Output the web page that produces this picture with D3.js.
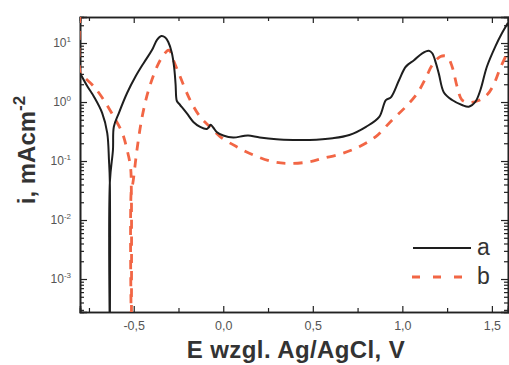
<!DOCTYPE html>
<html>
<head>
<meta charset="utf-8">
<script src="https://cdn.jsdelivr.net/npm/d3@7"></script>
<style>
  html, body { margin: 0; padding: 0; background: #fff; }
  svg { display: block; font-family: "Liberation Sans", Arial, sans-serif; }
</style>
</head>
<body>
<svg id="chart" width="509" height="365"></svg>
<script>
// Polarisation curves: potential E (V vs Ag/AgCl) and current density i (mA/cm2)
const seriesNames = ["a", "b"];

const potentialA = [
  -0.800, -0.760, -0.722, -0.676, -0.648, -0.638, -0.6335, -0.6333, -0.6330, -0.616,
  -0.611, -0.583, -0.537, -0.490, -0.444, -0.398, -0.370, -0.346, -0.324, -0.307,
  -0.287, -0.274, -0.266, -0.263, -0.259, -0.241, -0.203, -0.167, -0.129, -0.092,
  -0.082, -0.071, -0.056, -0.037, 0.000, 0.056, 0.111, 0.139, 0.204, 0.297,
  0.389, 0.482, 0.611, 0.704, 0.797, 0.871, 0.908, 0.936, 0.982, 1.019,
  1.065, 1.111, 1.148, 1.167, 1.187, 1.204, 1.232, 1.278, 1.333, 1.371,
  1.408, 1.436, 1.472, 1.519, 1.556, 1.590
];
const currentA = [
  3.1, 1.87, 1.23, 0.65, 0.30, 0.10, 0.045, 0.0001, 0.045, 0.154,
  0.38, 0.65, 1.42, 2.7, 4.6, 7.6, 11.3, 13.1, 12.4, 10.4,
  6.8, 3.8, 1.94, 1.22, 1.04, 0.89, 0.64, 0.46, 0.38, 0.35,
  0.37, 0.41, 0.37, 0.31, 0.27, 0.25, 0.265, 0.27, 0.25, 0.233,
  0.227, 0.227, 0.243, 0.276, 0.38, 0.56, 1.08, 1.2, 2.36, 3.96,
  5.1, 6.7, 7.4, 6.7, 4.6, 3.0, 1.45, 1.08, 0.89, 0.83,
  1.01, 1.6, 3.96, 8.7, 14.6, 22
];

const potentialB = [
  -0.800, -0.797, -0.781, -0.722, -0.667, -0.611, -0.564, -0.537, -0.518, -0.5135,
  -0.5130, -0.5125, -0.507, -0.482, -0.453, -0.417, -0.370, -0.333, -0.306, -0.297,
  -0.278, -0.241, -0.185, -0.129, -0.074, -0.018, 0.074, 0.167, 0.278, 0.371,
  0.482, 0.556, 0.667, 0.759, 0.852, 0.944, 1.019, 1.083, 1.130, 1.167,
  1.213, 1.250, 1.278, 1.306, 1.333, 1.371, 1.426, 1.472, 1.509, 1.547,
  1.590
];
const currentB = [
  31, 2.98, 2.69, 1.82, 1.08, 0.56, 0.30, 0.154, 0.08, 0.035,
  0.0001, 0.035, 0.039, 0.154, 0.56, 1.6, 3.97, 6.3, 7.6, 7.3,
  5.1, 2.7, 1.08, 0.56, 0.38, 0.26, 0.175, 0.127, 0.097, 0.091,
  0.097, 0.111, 0.135, 0.175, 0.26, 0.50, 0.83, 1.4, 2.52, 4.24,
  5.9, 5.9, 3.97, 1.82, 1.08, 0.98, 1.06, 1.31, 1.94, 3.77,
  7.2
];

const xTickValues = [-0.5, 0.0, 0.5, 1.0, 1.5];
const xTickLabels = ["-0,5", "0,0", "0,5", "1,0", "1,5"];
const xMinorTickValues = [-0.75, -0.25, 0.25, 0.75, 1.25];
const yDecadeExponents = [-3, -2, -1, 0, 1];

const xTitle = "E wzgl. Ag/AgCl, V";
const yTitleMain = "i, mAcm";
const yTitleSup = "-2";

const svg = d3.select("#chart");
const plot = { left: 80, right: 508, top: 17, bottom: 312 };

const x = d3.scaleLinear().domain([-0.8, 1.59]).range([plot.left, plot.right]);
const y = d3.scaleLog().domain([2.76e-4, 27.6]).range([plot.bottom, plot.top]);

// clip for the curves
svg.append("defs").append("clipPath").attr("id", "plotClip")
  .append("rect")
  .attr("x", plot.left).attr("y", plot.top)
  .attr("width", plot.right - plot.left).attr("height", plot.bottom - plot.top);

// minor log ticks (2..9 per decade) inside the y range
const yMinor = [];
for (let e = -4; e <= 1; e++) {
  for (let m = 2; m <= 9; m++) {
    const v = m * Math.pow(10, e);
    if (v > y.domain()[0] && v < y.domain()[1]) yMinor.push(v);
  }
}
const yMajor = yDecadeExponents.map(e => Math.pow(10, e));

const axisColor = "#222";
const tickLabelColor = "#555";

// bottom axis: ticks point inward
const gB = svg.append("g").attr("transform", `translate(0,${plot.bottom})`);
gB.call(d3.axisBottom(x).tickValues(xTickValues).tickSize(-6).tickPadding(9)
  .tickFormat((d, i) => xTickLabels[i]));
gB.append("g").call(d3.axisBottom(x).tickValues(xMinorTickValues).tickSize(-4).tickFormat(""));

// top axis
const gT = svg.append("g").attr("transform", `translate(0,${plot.top})`);
gT.call(d3.axisTop(x).tickValues(xTickValues).tickSize(-6).tickFormat(""));
gT.append("g").call(d3.axisTop(x).tickValues(xMinorTickValues).tickSize(-4).tickFormat(""));

// left axis
const gL = svg.append("g").attr("transform", `translate(${plot.left},0)`);
gL.call(d3.axisLeft(y).tickValues(yMajor).tickSize(-7).tickFormat(""));
gL.append("g").call(d3.axisLeft(y).tickValues(yMinor).tickSize(-4).tickFormat(""));

// right axis
const gR = svg.append("g").attr("transform", `translate(${plot.right},0)`);
gR.call(d3.axisRight(y).tickValues(yMajor).tickSize(-7).tickFormat(""));
gR.append("g").call(d3.axisRight(y).tickValues(yMinor).tickSize(-4).tickFormat(""));

svg.selectAll(".domain").attr("stroke", axisColor).attr("stroke-width", 1.6);
svg.selectAll(".tick line").attr("stroke", axisColor).attr("stroke-width", 1.2);
gB.selectAll(".tick text").attr("fill", tickLabelColor).attr("font-size", 12.5)
  .attr("font-family", "Liberation Sans, Arial, sans-serif");

// y decade labels 10^n
const yLab = svg.append("g");
yDecadeExponents.forEach(e => {
  const t = yLab.append("text")
    .attr("x", 71).attr("y", y(Math.pow(10, e)) + 4)
    .attr("text-anchor", "end")
    .attr("fill", tickLabelColor).attr("font-size", 12);
  t.append("tspan").text("10");
  t.append("tspan").attr("dy", -5).attr("font-size", 8).text(String(e));
});

// curves
const line = d3.line()
  .x(d => x(d[0]))
  .y(d => y(d[1]))
  .curve(d3.curveCatmullRom.alpha(0.5));

const curves = svg.append("g").attr("clip-path", "url(#plotClip)");
curves.append("path")
  .datum(d3.zip(potentialB, currentB))
  .attr("fill", "none")
  .attr("stroke", "#f26645")
  .attr("stroke-width", 2.8)
  .attr("stroke-dasharray", "9,8")
  .attr("d", line);
curves.append("path")
  .datum(d3.zip(potentialA, currentA))
  .attr("fill", "none")
  .attr("stroke", "#1e1e1e")
  .attr("stroke-width", 2)
  .attr("stroke-linejoin", "round")
  .attr("d", line);

// axis titles
svg.append("text")
  .attr("x", 296).attr("y", 358)
  .attr("text-anchor", "middle")
  .attr("font-size", 24).attr("font-weight", "bold")
  .attr("letter-spacing", 0.4)
  .attr("fill", "#333")
  .text(xTitle);

const yt = svg.append("text")
  .attr("transform", "translate(35,150) rotate(-90)")
  .attr("text-anchor", "middle")
  .attr("font-size", 24).attr("font-weight", "bold")
  .attr("fill", "#333");
yt.append("tspan").text(yTitleMain);
yt.append("tspan").attr("dy", -10).attr("font-size", 17).text(yTitleSup);

// legend
const legend = svg.append("g");
legend.append("line")
  .attr("x1", 413).attr("x2", 471).attr("y1", 248).attr("y2", 248)
  .attr("stroke", "#1e1e1e").attr("stroke-width", 2);
legend.append("text")
  .attr("x", 477).attr("y", 255)
  .attr("font-size", 23).attr("fill", "#333")
  .text(seriesNames[0]);
legend.append("line")
  .attr("x1", 412).attr("x2", 463).attr("y1", 277).attr("y2", 277)
  .attr("stroke", "#f26645").attr("stroke-width", 2.8)
  .attr("stroke-dasharray", "8,13");
legend.append("text")
  .attr("x", 477).attr("y", 284)
  .attr("font-size", 23).attr("fill", "#333")
  .text(seriesNames[1]);
</script>
</body>
</html>
